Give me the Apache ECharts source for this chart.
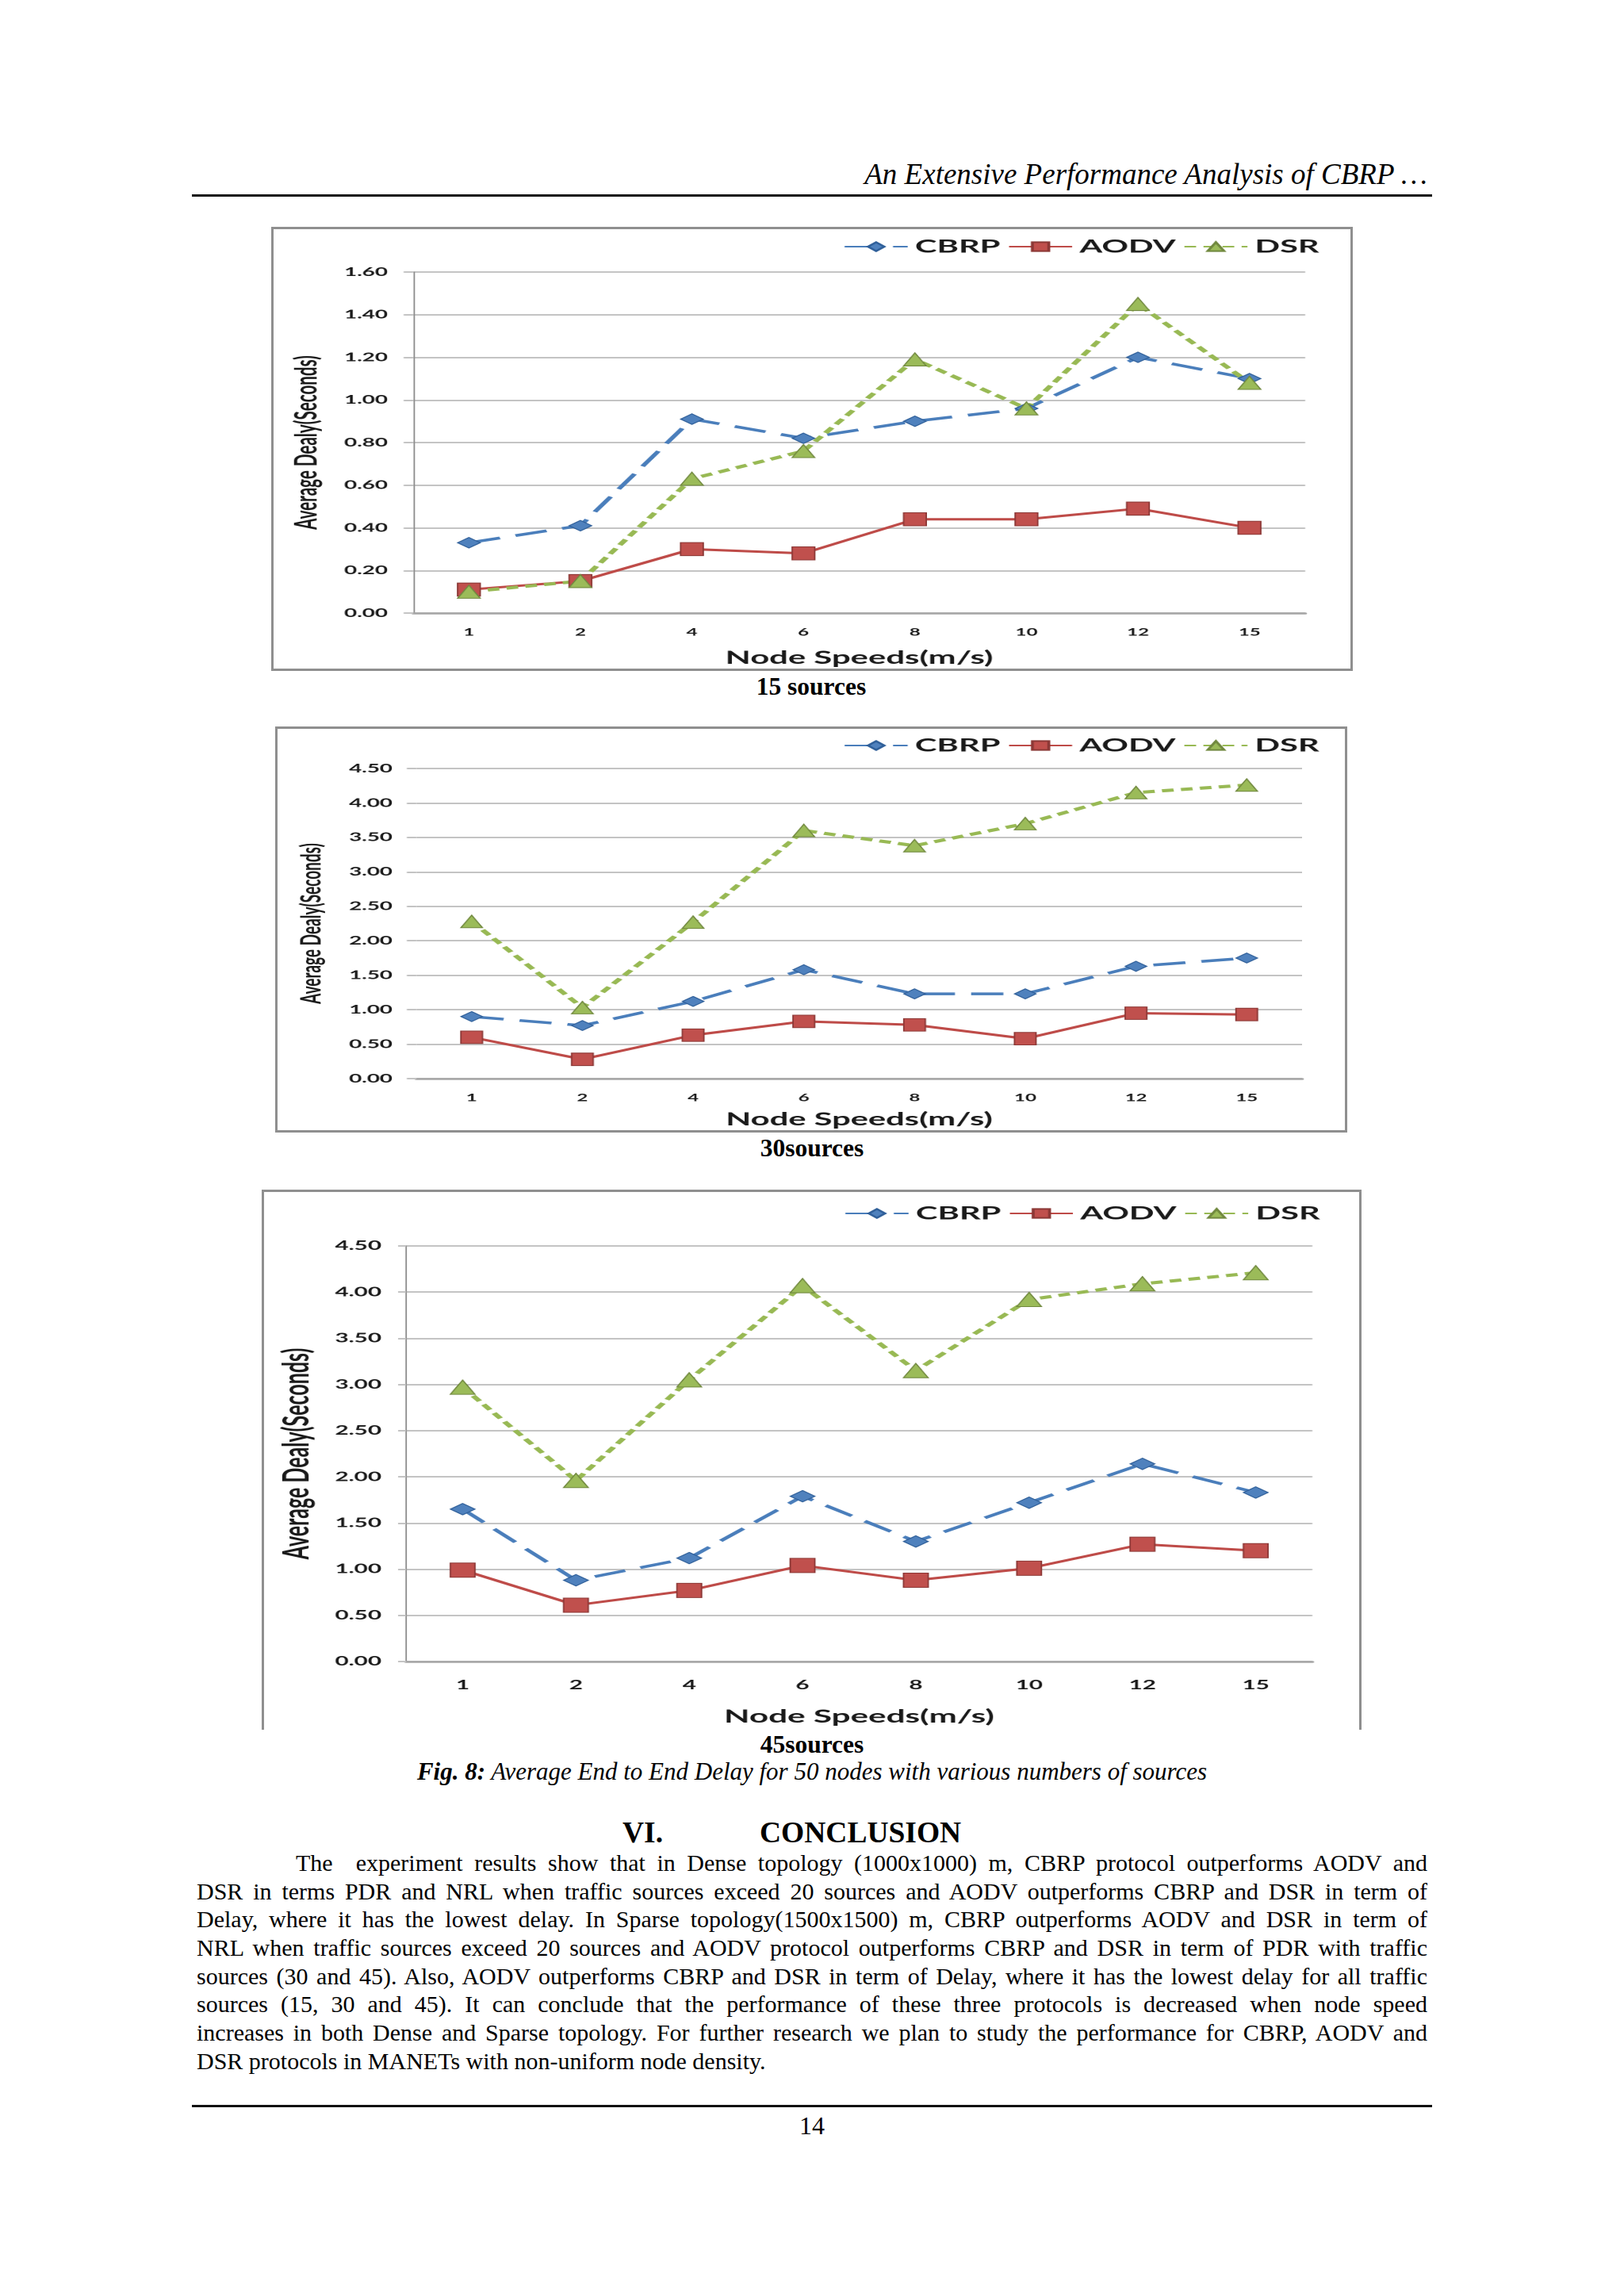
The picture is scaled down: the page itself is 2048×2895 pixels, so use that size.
<!DOCTYPE html>
<html>
<head>
<meta charset="utf-8">
<script src="https://cdn.jsdelivr.net/npm/echarts@6/dist/echarts.min.js"></script>
<style>
html, body { margin: 0; padding: 0; background: #fff; }
body { width: 2048px; height: 2895px; position: relative; overflow: hidden;
       font-family: "Liberation Serif", "Times New Roman", serif; color: #000; }
.t { position: absolute; white-space: nowrap; line-height: 1; }
.rule { position: absolute; left: 242px; width: 1564px; height: 3px; background: #111; }
.chart { position: absolute; transform-origin: 0 0; }
.frame { position: absolute; border: 3px solid #8f8f8f; box-sizing: border-box; pointer-events: none; }
.pl { position: absolute; left: 248px; width: 1552px; font-size: 30px; line-height: 1;
      white-space: nowrap; text-align: justify; text-align-last: justify; }
</style>
</head>
<body>
<div class="rule" style="top:245px"></div>
<div class="rule" style="top:2654px"></div>
<div id="chart15" class="chart"></div>
<div id="chart30" class="chart"></div>
<div id="chart45" class="chart"></div>
<script>
// node speed categories (m/s)
var speeds = ['1', '2', '4', '6', '8', '10', '12', '15'];
var protocols = ['CBRP', 'AODV', 'DSR'];

// 15 sources
var cbrp15 = [0.33, 0.41, 0.91, 0.82, 0.90, 0.96, 1.20, 1.10];
var aodv15 = [0.11, 0.15, 0.30, 0.28, 0.44, 0.44, 0.49, 0.40];
var dsr15  = [0.10, 0.15, 0.63, 0.76, 1.19, 0.96, 1.45, 1.08];

// 30 sources
var cbrp30 = [0.90, 0.77, 1.12, 1.58, 1.23, 1.23, 1.63, 1.75];
var aodv30 = [0.60, 0.28, 0.63, 0.83, 0.78, 0.58, 0.95, 0.93];
var dsr30  = [2.28, 1.03, 2.27, 3.60, 3.38, 3.70, 4.15, 4.26];

// 45 sources
var cbrp45 = [1.65, 0.88, 1.12, 1.79, 1.30, 1.72, 2.14, 1.83];
var aodv45 = [0.99, 0.61, 0.77, 1.04, 0.88, 1.01, 1.27, 1.20];
var dsr45  = [2.97, 1.96, 3.05, 4.07, 3.15, 3.92, 4.09, 4.21];

var paraLines = [
  'The&nbsp; experiment results show that in Dense topology (1000x1000) m, CBRP protocol outperforms AODV and',
  'DSR in terms PDR and NRL when traffic sources exceed 20 sources and AODV outperforms CBRP and DSR in term of',
  'Delay, where it has the lowest delay. In Sparse topology(1500x1500) m, CBRP outperforms AODV and DSR in term of',
  'NRL when traffic sources exceed 20 sources and AODV protocol outperforms CBRP and DSR in term of PDR with traffic',
  'sources (30 and 45). Also, AODV outperforms CBRP and DSR in term of Delay, where it has the lowest delay for all traffic',
  'sources (15, 30 and 45). It can conclude that the performance of these three protocols is decreased when node speed',
  'increases in both Dense and Sparse topology. For further research we plan to study the performance for CBRP, AODV and',
  'DSR protocols in MANETs with non-uniform node density.'
];

// the charts in the paper are pasted images stretched sideways
var SX = 1.85;
var LBL = '#1a1a1a';

function txt(html, x, base, size, css, align) {
  var d = document.createElement('div');
  d.className = 't';
  d.innerHTML = html;
  d.style.fontSize = size + 'px';
  d.style.top = (base - 0.8375 * size) + 'px';
  if (align === 'center') {
    d.style.left = (x - 1000) + 'px'; d.style.width = '2000px'; d.style.textAlign = 'center';
  } else if (align === 'right') {
    d.style.left = (x - 2000) + 'px'; d.style.width = '2000px'; d.style.textAlign = 'right';
  } else {
    d.style.left = x + 'px';
  }
  if (css) d.style.cssText += ';' + css;
  document.body.appendChild(d);
}

function makeChart(id, c, vals) {
  var f = c.frame, p = c.plot;
  var el = document.getElementById(id);
  el.style.left = f.x + 'px';
  el.style.top = f.y + 'px';
  el.style.width = (f.w / SX) + 'px';
  el.style.height = f.h + 'px';
  el.style.transform = 'scaleX(' + SX + ')';

  var fr = document.createElement('div');
  fr.className = 'frame';
  fr.style.left = f.x + 'px'; fr.style.top = f.y + 'px';
  fr.style.width = f.w + 'px'; fr.style.height = f.h + 'px';
  if (!f.bottom) fr.style.borderBottom = 'none';
  document.body.appendChild(fr);

  var font = { fontFamily: 'Lato', fontWeight: 'bold', color: LBL };
  var chart = echarts.init(el, null, { devicePixelRatio: 2 });
  chart.setOption({
    animation: false,
    grid: {
      left: (p.x0 - f.x) / SX,
      top: p.y0 - f.y,
      width: (p.x1 - p.x0) / SX,
      height: p.y1 - p.y0
    },
    legend: {
      data: protocols,
      left: (c.leg.x - f.x) / SX,
      top: c.leg.cy - f.y - c.leg.fs * 0.6,
      itemWidth: 43,
      itemHeight: 14,
      itemGap: 5,
      textStyle: Object.assign({ fontSize: c.leg.fs }, font)
    },
    xAxis: {
      type: 'category',
      data: speeds,
      boundaryGap: true,
      name: 'Node Speeds(m/s)',
      nameLocation: 'middle',
      nameGap: c.xnameGap,
      nameTextStyle: Object.assign({ fontSize: c.fs.xname }, font),
      axisLine: { lineStyle: { color: '#a6a6a6', width: 2.5 } },
      axisTick: { show: false },
      axisLabel: Object.assign({ fontSize: c.fs.cat, margin: c.catMargin }, font)
    },
    yAxis: {
      type: 'value',
      min: 0,
      max: c.max,
      interval: c.interval,
      name: 'Average Dealy(Seconds)',
      nameLocation: 'middle',
      nameGap: c.ynameGap,
      nameTextStyle: Object.assign({ fontSize: c.fs.yname }, font),
      axisLine: { show: c.yLine, lineStyle: { color: '#8c8c8c', width: 1 } },
      axisTick: { show: true, length: c.tickLen / SX, lineStyle: { color: '#c4c4c4', width: 2 } },
      splitLine: { lineStyle: { color: '#c4c4c4', width: 2 } },
      axisLabel: Object.assign({
        fontSize: c.fs.tick, margin: c.labelMargin / SX,
        formatter: function (v) { return v.toFixed(2); }
      }, font)
    },
    series: [{
      name: 'CBRP', type: 'line', data: vals[0],
      symbol: 'diamond', symbolSize: [14 * c.ms, 12 * c.ms],
      lineStyle: { color: '#4a7ebb', width: 3.5, type: [22, 11] },
      itemStyle: { color: '#4f81bd', borderColor: '#2f5f99', borderWidth: 1 }
    }, {
      name: 'AODV', type: 'line', data: vals[1],
      symbol: 'rect', symbolSize: [14 * c.ms, 15 * c.ms],
      lineStyle: { color: '#be4b48', width: 3 },
      itemStyle: { color: '#c0504d', borderColor: '#8c3836', borderWidth: 1 }
    }, {
      name: 'DSR', type: 'line', data: vals[2],
      symbol: 'triangle', symbolSize: [14 * c.ms, 15 * c.ms],
      lineStyle: { color: '#98b954', width: 4, type: [8, 5] },
      itemStyle: { color: '#9bbb59', borderColor: '#71893f', borderWidth: 1 }
    }]
  });
}

makeChart('chart15', {
  frame: { x: 342, y: 286, w: 1364, h: 560, bottom: true },
  plot: { x0: 521, x1: 1646, y0: 343, y1: 776 },
  max: 1.6, interval: 0.2, yLine: true, tickLen: 12,
  leg: { x: 1054, cy: 308, fs: 22.5 },
  fs: { tick: 15, cat: 13, xname: 22.6, yname: 20.6 },
  catMargin: 18, xnameGap: 45, ynameGap: 62, labelMargin: 32, ms: 1.1
}, [cbrp15, aodv15, dsr15]);

makeChart('chart30', {
  frame: { x: 347, y: 916, w: 1352, h: 512, bottom: true },
  plot: { x0: 525, x1: 1642, y0: 969, y1: 1362 },
  max: 4.5, interval: 0.5, yLine: false, tickLen: 12,
  leg: { x: 1054, cy: 937, fs: 22.5 },
  fs: { tick: 15, cat: 13, xname: 22.5, yname: 19 },
  catMargin: 18, xnameGap: 40, ynameGap: 62, labelMargin: 30, ms: 1.05
}, [cbrp30, aodv30, dsr30]);

makeChart('chart45', {
  frame: { x: 330, y: 1500, w: 1387, h: 681, bottom: false },
  plot: { x0: 512, x1: 1655, y0: 1571, y1: 2096 },
  max: 4.5, interval: 0.5, yLine: true, tickLen: 10,
  leg: { x: 1055, cy: 1527, fs: 22.5 },
  fs: { tick: 16, cat: 16, xname: 22.8, yname: 25 },
  catMargin: 22, xnameGap: 58, ynameGap: 62, labelMargin: 31, ms: 1.2
}, [cbrp45, aodv45, dsr45]);

// page text
txt('An Extensive Performance Analysis of CBRP …', 1800, 232, 37, 'font-style:italic', 'right');
txt('15 sources', 1023, 876, 31.5, 'font-weight:bold', 'center');
txt('30sources', 1024, 1458, 31.5, 'font-weight:bold', 'center');
txt('45sources', 1024, 2210, 31.5, 'font-weight:bold', 'center');
txt('<b>Fig. 8:</b> Average End to End Delay for 50 nodes with various numbers of sources',
    1024, 2244, 31, 'font-style:italic', 'center');
txt('VI.', 785, 2323, 37.5, 'font-weight:bold');
txt('CONCLUSION', 958, 2323, 37.5, 'font-weight:bold');
paraLines.forEach(function (s, i) {
  var d = document.createElement('div');
  d.className = 'pl';
  d.innerHTML = s;
  d.style.top = (2359 + i * 35.7 - 0.8375 * 30) + 'px';
  if (i === 0) { d.style.left = '373px'; d.style.width = '1427px'; }
  if (i === paraLines.length - 1) d.style.textAlignLast = 'left';
  document.body.appendChild(d);
  // squeeze a line a touch if it would run past the right margin
  var ls = 0;
  while (d.scrollWidth > d.clientWidth + 1 && ls > -1.5) {
    ls -= 0.1;
    d.style.letterSpacing = ls + 'px';
  }
});
txt('14', 1024, 2691, 32, '', 'center');
</script>
</body>
</html>
